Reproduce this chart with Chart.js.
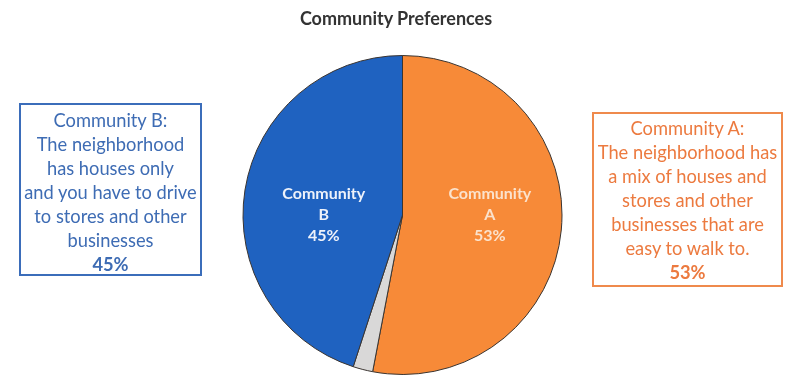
<!DOCTYPE html>
<html>
<head>
<meta charset="utf-8">
<script src="https://cdn.jsdelivr.net/npm/chart.js@4/dist/chart.umd.min.js"></script>
<style>
  html, body { margin: 0; padding: 0; background: #fff; }
  #wrap { position: relative; width: 786px; height: 382px; overflow: hidden; font-family: Lato, "Open Sans", sans-serif; }
  #pie { position: absolute; left: 0; top: 0; }
  .title { position: absolute; left: 0; width: 792px; top: 7px; text-align: center; font-weight: bold; font-size: 18px; color: #333; }
  .box { position: absolute; box-sizing: border-box; border: 2px solid; text-align: center; font-size: 18.3px; line-height: 24px; white-space: nowrap; }
  .box b { font-weight: bold; }
  #boxB { left: 19px; top: 103px; width: 183px; height: 173px; border-color: #3b6dba; color: #3e6cb4; padding-top: 3px; }
  #boxA { left: 592px; top: 112px; width: 191px; height: 175px; border-color: #ef8a4c; color: #ec7a3f; padding-top: 2px; }
  .box div { display: flex; justify-content: center; }
</style>
</head>
<body>
<div id="wrap">
  <canvas id="pie" width="786" height="382"></canvas>
  <div class="title" id="title"></div>
  <div class="box" id="boxB"></div>
  <div class="box" id="boxA"></div>
</div>
<script>
// Survey shares (percent), clockwise from 12 o'clock
const categories = ['Community A', 'Other', 'Community B'];
const shares = [53, 2, 45];
const sliceLabels = [['Community', 'A', '53%'], null, ['Community', 'B', '45%']];
const sliceColors = ['#f78a38', '#d9d8d8', '#1f62c0'];
const sliceTextColors = ['#fbe2cc', null, '#eef2fa'];
const labelRadius = [0.55, 0, 0.5];

const chartTitle = 'Community Preferences';
const boxBLines = ['Community B:', 'The neighborhood', 'has houses only', 'and you have to drive', 'to stores and other', 'businesses'];
const boxALines = ['Community A:', 'The neighborhood has', 'a mix of houses and', 'stores and other', 'businesses that are', 'easy to walk to.'];

document.getElementById('title').textContent = chartTitle;
function fillBox(id, lines, pct) {
  const el = document.getElementById(id);
  lines.forEach(t => { const d = document.createElement('div'); d.textContent = t; el.appendChild(d); });
  const d = document.createElement('div');
  const b = document.createElement('b'); b.textContent = pct + '%';
  d.appendChild(b); el.appendChild(d);
}
fillBox('boxB', boxBLines, shares[2]);
fillBox('boxA', boxALines, shares[0]);

// In-slice labels, placed sideways from the centre along each slice's mid-angle
const sliceLabelPlugin = {
  id: 'sliceLabels',
  afterDatasetsDraw(chart) {
    const ctx = chart.ctx;
    const meta = chart.getDatasetMeta(0);
    meta.data.forEach((arc, i) => {
      const lines = sliceLabels[i];
      if (!lines) return;
      const p = arc.getProps(['x', 'y', 'startAngle', 'endAngle', 'outerRadius'], true);
      const mid = (p.startAngle + p.endAngle) / 2;
      const cx = p.x + Math.cos(mid) * p.outerRadius * labelRadius[i];
      const cy = p.y;
      const lh = 21;
      ctx.save();
      ctx.font = 'bold 16px Lato, "Open Sans", sans-serif';
      ctx.fillStyle = sliceTextColors[i];
      ctx.textAlign = 'center';
      ctx.textBaseline = 'middle';
      lines.forEach((t, k) => {
        ctx.fillText(t, cx, cy + (k - (lines.length - 1) / 2) * lh);
      });
      ctx.restore();
    });
  }
};

new Chart(document.getElementById('pie'), {
  type: 'pie',
  data: {
    labels: categories,
    datasets: [{
      data: shares,
      backgroundColor: sliceColors,
      borderColor: '#3a3430',
      borderWidth: 1
    }]
  },
  options: {
    responsive: false,
    animation: false,
    layout: { padding: { left: 242, right: 223, top: 55, bottom: 7 } },
    plugins: {
      legend: { display: false },
      tooltip: { enabled: false },
      title: { display: false }
    }
  },
  plugins: [sliceLabelPlugin]
});
</script>
</body>
</html>
